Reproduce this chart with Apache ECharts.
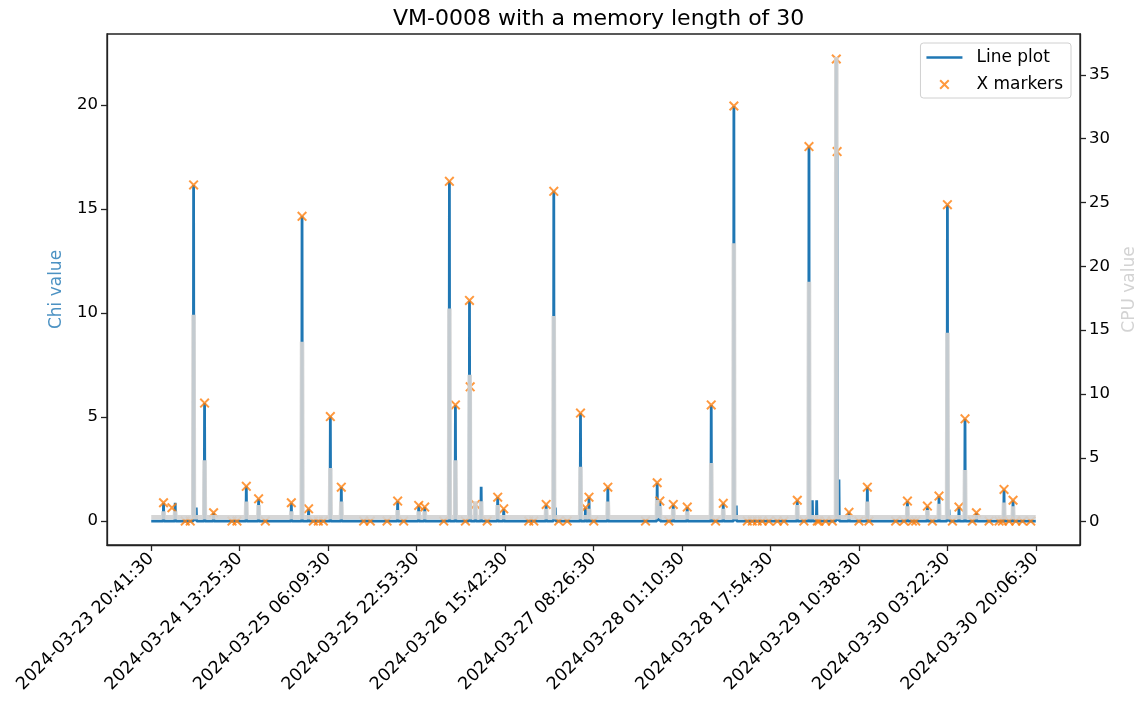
<!DOCTYPE html>
<html>
<head>
    <meta charset="utf-8">
    <title>VM-0008 chi</title>
    <style>
        html,body{margin:0;padding:0;background:#ffffff;}
        #chart{width:1137px;height:703px;}
    </style>
</head>
<body>
<div id="chart"></div>
<script src="https://cdn.jsdelivr.net/npm/echarts@6/dist/echarts.min.js"></script>
<script>
    // x is the sample position, 100 units between two labelled ticks
    var tickLabels = ['2024-03-23 20:41:30','2024-03-24 13:25:30','2024-03-25 06:09:30','2024-03-25 22:53:30',
        '2024-03-26 15:42:30','2024-03-27 08:26:30','2024-03-28 01:10:30','2024-03-28 17:54:30',
        '2024-03-29 10:38:30','2024-03-30 03:22:30','2024-03-30 20:06:30'];
    var tickPos = [0,100,200,300,400,500,600,700,800,900,1000];
    var dataEnd = 1000;
    var chiTicks = [0,5,10,15,20];
    var cpuTicks = [0,5,10,15,20,25,30,35];

    // chi value spikes (everything else sits on 0)
    var chiPos = [13.9,27.1,47.9,50.9,60.3,70.5,107.5,121.4,158.4,170.5,177.9,202.5,214.9,278.6,302.4,309.2,
        337.1,343.9,359.8,360.6,366.5,373,391.7,398.5,446.5,455.1,457,485.3,490.9,494.9,516.2,572,575,590.2,606,
        633.1,646.7,658.7,661.4,730.4,743.6,747.4,752.3,774.5,775.4,777.5,788.8,809.6,854.9,877.5,890.6,900.1,
        901.9,913.2,920,932.9,964.1,974.3];
    var chiVal = [0.88,0.88,16.15,0.65,5.67,0.4,1.67,1.07,0.88,14.64,0.59,5.02,1.63,0.96,0.75,0.67,
        16.32,5.58,10.6,6.45,0.8,1.65,1.15,0.59,0.8,15.84,0.65,5.19,0.65,1.15,1.63,1.84,0.96,0.8,0.67,
        5.58,0.85,19.94,0.75,1.0,17.99,1.0,1.0,22.2,17.75,2.0,0.42,1.63,0.96,0.72,1.2,15.2,
        0.55,0.67,4.91,0.4,1.52,1.0];

    // CPU value spikes (baseline cpuBase)
    var cpuBase = 0.35;
    var cpuPos = [13.9,27.1,47.9,60.3,107.5,121.4,158.4,170.5,202.5,214.9,278.6,302.4,309.2,337.1,343.9,360.1,
        366.5,373,391.7,446.5,455.1,485.3,494.9,516.2,572,575,590.2,606,633.1,646.7,658.7,730.4,743.6,774.5,
        809.6,854.9,877.5,890.6,900.1,920,964.1,974.3];
    var cpuVal = [0.8,0.8,16.2,4.8,1.57,1.3,0.8,14.1,4.2,1.57,0.9,0.8,0.8,16.7,4.8,11.5,
        1.6,1.6,1.3,1.0,16.1,4.3,1.0,1.57,1.7,1.2,1.0,0.8,4.6,1.0,21.8,1.3,18.8,36.4,
        1.57,1.2,0.9,1.4,14.8,4.05,1.5,1.2];

    // X markers: flagged points
    var markPos = [13.9,23.4,47.9,60.3,70.5,107.5,121.4,158.4,170.5,177.9,202.5,214.9,278.6,302.4,309.2,337.1,
        343.9,359.8,360.6,366.5,391.7,398.5,446.5,455.1,485.3,490.9,494.9,516.2,572,575,590.2,606,633.1,646.7,
        658.7,730.4,743.6,774.5,775.4,788.8,809.6,854.9,877.5,890.6,900.1,913.2,920,932.9,964.1,974.3,
        38.5,44.1,91.3,96.9,129,183.3,188.9,194.6,240.2,247.7,266.6,285.4,330.7,355.2,379.8,426.8,432.5,
        460.7,470.2,500.3,558.8,585.2,638,673.9,679.5,685.1,690.8,698.3,707.8,715.3,737.9,753,754.9,762.4,
        770,800.1,811.4,841.6,851,860.5,864.3,883.1,905.8,928.3,947.2,958.5,962.3,969.8,977.4,985,994.3];
    var markVal = [0.88,0.64,16.15,5.67,0.4,1.67,1.07,0.88,14.64,0.59,5.02,1.63,0.96,0.75,0.67,16.32,
        5.58,10.6,6.45,0.8,1.15,0.59,0.8,15.84,5.19,0.65,1.15,1.63,1.84,0.96,0.8,0.67,5.58,0.85,
        19.94,1.0,17.99,22.2,17.75,0.42,1.63,0.96,0.72,1.2,15.2,0.67,4.91,0.4,1.52,1.0,
        0,0,0,0,0,0,0,0,0,0,0,0,0,0,0,0,0,
        0,0,0,0,0,0,0,0,0,0,0,0,0,0,0,0,0,0,
        0,0,0,0,0,0,0,0,0,0,0,0,0,0,0,0,0];

    function spikeLine(pos,val,base){
        var pts=[[0,base]];
        for(var i=0;i<pos.length;i++){
            pts.push([pos[i]-0.4,base]);
            pts.push([pos[i],val[i]]);
            pts.push([pos[i]+0.4,base]);
        }
        pts.push([dataEnd,base]);
        pts.sort(function(a,b){return a[0]-b[0];});
        return pts;
    }
    var marks=[];
    for(var m=0;m<markPos.length;m++){
        marks.push([markPos[m],markVal[m]]);
    }

    var xIcon='path://M1.4,0L5,3.6L8.6,0L10,1.4L6.4,5L10,8.6L8.6,10L5,6.4L1.4,10L0,8.6L3.6,5L0,1.4Z';
    var font='DejaVu Sans';
    var ink='#222';

    var myChart = echarts.init(document.getElementById('chart'));
    var option = {
        animation:false,
        backgroundColor:'#ffffff',
        title:{
            text:'VM-0008 with a memory length of 30',
            left:388,
            top:3,
            textStyle:{fontFamily:font,fontSize:22,fontWeight:'normal',color:'#000'}
        },
        legend:{
            data:[{name:'Line plot',icon:'path://M0,0H30V2H0Z'},{name:'X markers',icon:xIcon}],
            orient:'vertical',
            right:66,
            top:43,
            itemWidth:36,
            itemHeight:10,
            itemGap:10,
            padding:[6,8,5,6],
            backgroundColor:'rgba(255,255,255,0.8)',
            borderColor:'#d0d0d0',
            borderWidth:1,
            borderRadius:3,
            textStyle:{fontFamily:font,fontSize:17,color:'#000',padding:[0,0,0,9]}
        },
        grid:{
            left:107,
            right:57,
            top:34,
            bottom:158,
            containLabel:false,
            outerBoundsMode:'none',
            show:true,
            borderColor:ink,
            borderWidth:1.3
        },
        xAxis:{
            type:'value',
            min:-50,
            max:1050,
            axisLine:{show:true,onZero:false,lineStyle:{color:ink,width:1.3}},
            axisTick:{show:true,customValues:tickPos,length:6,lineStyle:{color:ink,width:1.3}},
            axisLabel:{
                customValues:tickPos,
                rotate:45,
                margin:11,
                fontFamily:font,
                fontSize:17.5,
                color:'#000',
                formatter:function(v){return tickLabels[Math.round(v/100)];}
            },
            splitLine:{show:false}
        },
        yAxis:[{
            type:'value',
            min:-1.15,
            max:23.4,
            name:'Chi value',
            nameLocation:'middle',
            nameRotate:90,
            nameGap:42,
            nameTextStyle:{fontFamily:font,fontSize:17,color:'rgba(31,119,180,0.8)'},
            axisLine:{show:true,onZero:false,lineStyle:{color:ink,width:1.3}},
            axisTick:{show:true,customValues:chiTicks,length:6,lineStyle:{color:ink,width:1.3}},
            axisLabel:{customValues:chiTicks,fontFamily:font,fontSize:16.5,color:'#000',margin:9},
            splitLine:{show:false}
        },{
            type:'value',
            position:'right',
            min:-1.83,
            max:38.2,
            name:'CPU value',
            nameLocation:'middle',
            nameRotate:90,
            nameGap:37,
            nameTextStyle:{fontFamily:font,fontSize:17,color:'#d3d3d3'},
            axisLine:{show:true,onZero:false,lineStyle:{color:ink,width:1.3}},
            axisTick:{show:true,customValues:cpuTicks,length:6,lineStyle:{color:ink,width:1.3}},
            axisLabel:{customValues:cpuTicks,fontFamily:font,fontSize:16.5,color:'#000',margin:9},
            splitLine:{show:false}
        }],
        series:[{
            name:'Line plot',
            type:'line',
            yAxisIndex:0,
            data:spikeLine(chiPos,chiVal,0),
            showSymbol:false,
            color:'#1f77b4',
            lineStyle:{width:2.8,color:'#1f77b4'},
            z:2
        },{
            name:'X markers',
            type:'scatter',
            yAxisIndex:0,
            data:marks,
            symbol:xIcon,
            symbolSize:10,
            itemStyle:{color:'#ff7f0e'},
            z:3
        },{
            name:'CPU value',
            type:'line',
            yAxisIndex:1,
            data:spikeLine(cpuPos,cpuVal,cpuBase),
            showSymbol:false,
            color:'#d3d3d3',
            lineStyle:{width:4.5,color:'#d3d3d3',opacity:0.92},
            z:4
        }]
    };
    myChart.setOption(option);
</script>
</body>
</html>
